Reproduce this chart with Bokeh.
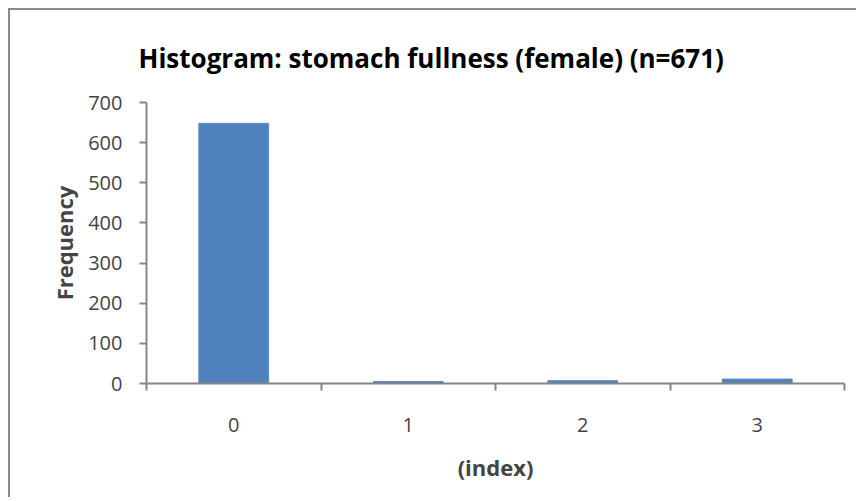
from bokeh.plotting import figure
from bokeh.models import FixedTicker, Range1d, ColumnDataSource
from bokeh.embed import file_html
from bokeh.resources import INLINE

categories = ["0", "1", "2", "3"]
frequency = [648, 5, 7, 11]
y_ticks = [0, 100, 200, 300, 400, 500, 600, 700]
title_text = "Histogram: stomach fullness (female) (n=671)"

positions = [i + 0.5 for i in range(len(categories))]
source = ColumnDataSource(dict(x=positions, top=frequency))

FONT = "Open Sans"
GRAY = "#868686"

p = figure(width=848, height=489, output_backend="svg", toolbar_location=None,
           x_range=Range1d(0, len(categories)), y_range=Range1d(0, 700),
           min_border_left=136, min_border_right=14, min_border_top=92,
           min_border_bottom=116)
p.margin = (8, 0, 0, 8)
p.styles = {"border-left": "2px solid #8a8a8a", "border-top": "2px solid #8a8a8a"}

p.vbar(x="x", top="top", width=0.4, source=source,
       fill_color="#4F81BD", line_color="#5B8BC6", line_width=1)

p.title.text = title_text
p.title.align = "left"
p.title.offset = -8
p.title.text_font = FONT
p.title.text_font_size = "26px"
p.title.text_font_style = "bold"
p.title.text_color = "black"
p.title.standoff = 54

p.grid.visible = False
p.outline_line_color = None

xa = p.xaxis[0]
xa.ticker = FixedTicker(ticks=positions, minor_ticks=list(range(len(categories) + 1)))
xa.major_label_overrides = {pos: c for pos, c in zip(positions, categories)}
xa.major_tick_line_color = None
xa.minor_tick_line_color = GRAY
xa.minor_tick_line_width = 2
xa.minor_tick_out = 7
xa.minor_tick_in = 0
xa.axis_line_color = GRAY
xa.axis_line_width = 2
xa.major_label_text_font = FONT
xa.major_label_text_font_size = "20px"
xa.major_label_standoff = 27
xa.axis_label = "(index)"
xa.axis_label_text_font = FONT
xa.axis_label_text_font_size = "22px"
xa.axis_label_text_font_style = "bold"
xa.axis_label_standoff = 17

ya = p.yaxis[0]
ya.ticker = FixedTicker(ticks=y_ticks)
ya.minor_tick_line_color = None
ya.major_tick_line_color = GRAY
ya.major_tick_line_width = 2
ya.major_tick_out = 7
ya.major_tick_in = 0
ya.axis_line_color = GRAY
ya.axis_line_width = 2
ya.major_label_text_font = FONT
ya.major_label_text_font_size = "20px"
ya.major_label_standoff = 17
ya.axis_label = "Frequency"
ya.axis_label_text_font = FONT
ya.axis_label_text_font_size = "22px"
ya.axis_label_text_font_style = "bold"
ya.axis_label_standoff = 6

open("out.html", "w").write(file_html(p, INLINE))
